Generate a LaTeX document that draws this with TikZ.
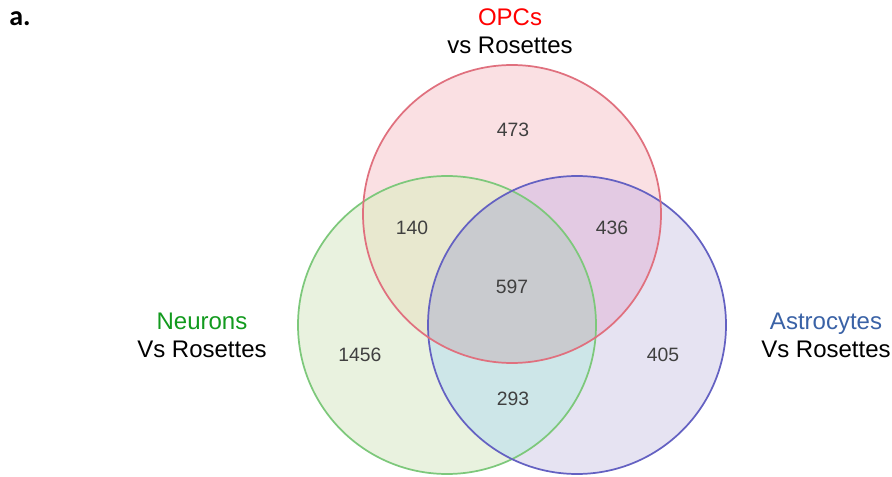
\documentclass[tikz,border=0pt]{standalone}
\usepackage{xcolor}
\usepackage{fontspec}
\setmainfont{Liberation Sans}
\newfontfamily\labfont{Carlito}
\usepackage{tikz}

\definecolor{opcred}{HTML}{FF0000}
\definecolor{neugreen}{HTML}{129A1E}
\definecolor{astblue}{HTML}{3A62A6}
\definecolor{numgray}{HTML}{404040}
\definecolor{opcfill}{HTML}{FAE0E3}
\definecolor{neufill}{HTML}{E9F2DF}
\definecolor{astfill}{HTML}{E6E3F2}
\definecolor{onfill}{HTML}{E8E8CF}
\definecolor{oafill}{HTML}{E3CAE3}
\definecolor{nafill}{HTML}{CDE6E8}
\definecolor{allfill}{HTML}{C9CBCF}
\definecolor{opcline}{HTML}{E0707E}
\definecolor{neuline}{HTML}{7DC87B}
\definecolor{astline}{HTML}{6461C2}

% the three sets
\def\opcset{(512,214) circle (149)}
\def\neuset{(447,325) circle (149)}
\def\astset{(577,325) circle (149)}

\begin{document}
\begin{tikzpicture}[x=0.75pt,y=-0.75pt,
    count/.style={text=numgray,font=\fontsize{14.5}{17}\selectfont},
    setname/.style={align=center,font=\fontsize{18}{21}\selectfont}]
  \useasboundingbox (0,0) rectangle (892,477);

  % fills
  \fill[opcfill] \opcset;
  \fill[neufill] \neuset;
  \fill[astfill] \astset;
  \begin{scope}
    \clip \opcset;
    \fill[onfill] \neuset;
    \fill[oafill] \astset;
  \end{scope}
  \begin{scope}
    \clip \neuset;
    \fill[nafill] \astset;
    \clip \astset;
    \fill[allfill] \opcset;
  \end{scope}

  % outlines
  \draw[neuline,line width=1.3pt] \neuset;
  \draw[astline,line width=1.3pt] \astset;
  \draw[opcline,line width=1.3pt] \opcset;

  % counts
  \node[count] (opc)  at (513,130) {473};
  \node[count] (on)   at (412,228) {140};
  \node[count] (oa)   at (612,228) {436};
  \node[count] (all)  at (512,287) {597};
  \node[count] (neu)  at (360,355) {1456};
  \node[count] (ast)  at (663,355) {405};
  \node[count] (na)   at (513,399) {293};

  % set names
  \node[setname] (opcname) at (510,31) {\textcolor{opcred}{OPCs}\\vs Rosettes};
  \node[setname] (neuname) at (202,335) {\textcolor{neugreen}{Neurons}\\Vs Rosettes};
  \node[setname] (astname) at (826,335) {\textcolor{astblue}{Astrocytes}\\Vs Rosettes};

  \node[anchor=base west,inner sep=0pt,font=\labfont\bfseries\fontsize{21}{24}\selectfont] (panel) at (9,26) {a.};
\end{tikzpicture}
\end{document}
